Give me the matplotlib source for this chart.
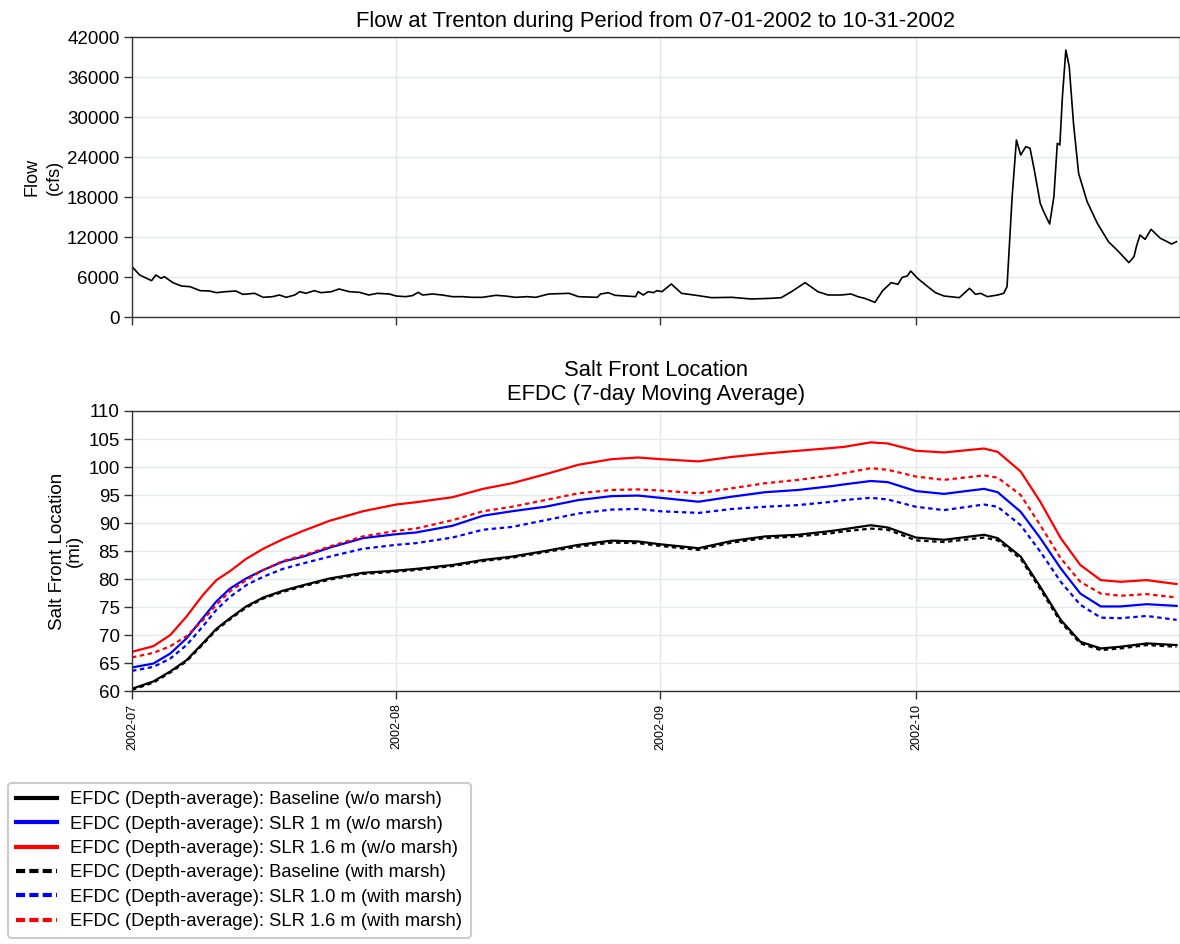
import matplotlib
matplotlib.use("Agg")
import matplotlib.pyplot as plt
from matplotlib.lines import Line2D
import pandas as pd

plt.rcParams['font.family'] = ['Liberation Sans', 'DejaVu Sans']

# ---------------- data ----------------
start = pd.Timestamp('2002-07-01')

flow_days = [0, 0.9, 2.3, 2.8, 3.4, 3.8, 4.8, 5.8, 6.8, 8.0, 9.1, 9.9, 11.0, 12.2, 13.0, 14.4,
             15.4, 16.5, 17.3, 18.1, 19.1, 19.7, 20.4, 21.4, 22.2, 23.4, 24.3, 25.5, 26.7, 27.8,
             28.8, 30.2, 31.0, 32.1, 32.9, 33.6, 34.1, 35.3, 36.4, 37.6, 38.8, 39.9, 41.1, 42.7,
             43.8, 45.0, 46.4, 47.4, 48.9, 51.3, 52.4, 54.6, 55.0, 55.9, 56.7, 59.1, 59.4, 60.0,
             60.6, 61.2, 61.6, 62.2, 63.3, 64.5, 66.5, 68.0, 70.4, 72.7, 75.0, 76.2, 77.4, 79.0,
             80.5, 81.7, 83.2, 84.4, 85.2, 86.0, 87.2, 88.1, 89.1, 89.9, 90.4, 91.0, 91.4, 92.2,
             93.4, 94.3, 95.3, 97.1, 98.3, 99.0, 99.6, 100.4, 101.6, 102.3, 102.7, 103.3, 103.8,
             104.3, 104.9, 105.4, 105.9, 106.6, 107.0, 107.7, 108.2, 108.6, 108.9, 109.2, 109.6,
             110.0, 110.5, 111.1, 112.1, 113.3, 114.6, 115.8, 117.0, 117.6, 117.9, 118.3, 118.9,
             119.6, 120.7, 121.5, 122.0, 122.6]
flow_cfs = [7550, 6300, 5450, 6300, 5800, 6050, 5150, 4650, 4550, 3950, 3900, 3650, 3800, 3900, 3400, 3550,
            2950, 3050, 3300, 2950, 3300, 3800, 3550, 3950, 3650, 3800, 4200, 3800, 3700, 3300,
            3550, 3450, 3150, 3050, 3200, 3700, 3300, 3450, 3300, 3050, 3050, 2950, 2950, 3250,
            3150, 2950, 3050, 2950, 3450, 3550, 3050, 2950, 3450, 3650, 3250, 3050, 3800, 3300,
            3800, 3650, 3950, 3800, 4950, 3550, 3200, 2900, 2950, 2700, 2800, 2900, 3800, 5150,
            3800, 3300, 3300, 3450, 3050, 2800, 2200, 3950, 5150, 4900, 5950, 6150, 6900, 5800,
            4550, 3650, 3150, 2900, 4300, 3400, 3550, 3050, 3300, 3550, 4550, 18050, 26550,
            24300, 25550, 25300, 22050, 17050, 15800, 13950, 18050, 26050, 25800, 33050, 40050,
            37550, 29050, 21550, 17300, 14050, 11300, 9800, 8150, 9050, 10650, 12300, 11650,
            13150, 11800, 11300, 10950, 11300]

sf_days = [0, 2.5, 4.5, 6.4, 8.3, 9.9, 11.5, 13.4, 15.4, 17.7, 20.1, 23.2, 27.1, 31.0, 33.3,
           37.6, 41.2, 44.6, 48.5, 52.4, 56.3, 59.4, 62.0, 66.5, 70.4, 74.3, 78.2, 82.2, 83.6,
           86.7, 88.7, 92.0, 95.3, 100.0, 101.6, 104.3, 106.6, 109.0, 111.3, 113.7, 116.0,
           119.1, 122.6]

base_wo = [60.4, 61.7, 63.5, 65.5, 68.5, 71.1, 73.0, 75.1, 76.7, 77.9, 78.9, 80.1, 81.1, 81.5, 81.8,
           82.5, 83.4, 84.0, 85.0, 86.1, 86.85, 86.7, 86.2, 85.5, 86.8, 87.6, 87.9, 88.6, 88.9,
           89.6, 89.2, 87.4, 87.0, 87.9, 87.3, 84.0, 78.6, 72.7, 68.8, 67.6, 67.9, 68.5, 68.2]
slr1_wo = [64.2, 64.9, 66.7, 69.4, 73.0, 76.0, 78.3, 80.1, 81.6, 83.1, 84.0, 85.6, 87.3, 88.0, 88.3,
           89.5, 91.3, 92.1, 92.9, 94.1, 94.8, 94.9, 94.5, 93.8, 94.7, 95.5, 95.9, 96.6, 96.9,
           97.5, 97.3, 95.7, 95.2, 96.1, 95.5, 92.0, 87.3, 81.9, 77.4, 75.1, 75.1, 75.5, 75.2]
slr16_wo = [67.0, 68.0, 70.0, 73.3, 77.1, 79.8, 81.4, 83.6, 85.4, 87.1, 88.6, 90.4, 92.1, 93.3, 93.7,
            94.6, 96.1, 97.1, 98.7, 100.4, 101.4, 101.7, 101.4, 101.0, 101.8, 102.4, 102.9, 103.4, 103.6,
            104.4, 104.2, 102.9, 102.6, 103.3, 102.7, 99.2, 93.8, 87.3, 82.5, 79.8, 79.5, 79.8, 79.1]
base_w = [60.2, 61.5, 63.3, 65.3, 68.3, 70.9, 72.8, 74.9, 76.5, 77.7, 78.7, 79.9, 80.9, 81.3, 81.6,
          82.3, 83.2, 83.8, 84.8, 85.8, 86.5, 86.4, 85.9, 85.2, 86.5, 87.3, 87.6, 88.2, 88.5,
          89.0, 88.8, 86.9, 86.6, 87.4, 86.9, 83.6, 78.2, 72.3, 68.5, 67.3, 67.6, 68.2, 67.9]
slr1_w = [63.6, 64.3, 65.8, 68.2, 71.5, 74.5, 76.8, 78.9, 80.4, 81.8, 82.8, 84.0, 85.4, 86.1, 86.4,
          87.4, 88.8, 89.3, 90.5, 91.7, 92.4, 92.5, 92.1, 91.8, 92.5, 92.9, 93.2, 93.8, 94.1,
          94.5, 94.2, 92.9, 92.3, 93.3, 92.9, 89.6, 84.9, 79.5, 75.4, 73.1, 73.0, 73.4, 72.7]
slr16_w = [66.0, 66.8, 68.0, 69.8, 72.6, 75.4, 77.8, 79.8, 81.6, 83.2, 84.2, 85.8, 87.6, 88.6, 89.0,
           90.5, 92.1, 92.9, 94.1, 95.3, 95.9, 96.0, 95.8, 95.3, 96.2, 97.1, 97.7, 98.5, 98.9,
           99.8, 99.5, 98.3, 97.7, 98.5, 98.1, 95.0, 89.6, 83.7, 79.5, 77.4, 77.0, 77.3, 76.7]

labels = ['EFDC (Depth-average): Baseline (w/o marsh)',
          'EFDC (Depth-average): SLR 1 m (w/o marsh)',
          'EFDC (Depth-average): SLR 1.6 m (w/o marsh)',
          'EFDC (Depth-average): Baseline (with marsh)',
          'EFDC (Depth-average): SLR 1.0 m (with marsh)',
          'EFDC (Depth-average): SLR 1.6 m (with marsh)']

flow_ticks = [0, 6000, 12000, 18000, 24000, 30000, 36000, 42000]
sf_ticks = [60, 65, 70, 75, 80, 85, 90, 95, 100, 105, 110]
month_ticks = ['2002-07-01', '2002-08-01', '2002-09-01', '2002-10-01']

# ---------------- plot ----------------
flow_t = start + pd.to_timedelta(flow_days, unit='D')
sf_t = start + pd.to_timedelta(sf_days, unit='D')

W, H = 1180, 944
fig = plt.figure(figsize=(W / 100, H / 100), dpi=100)
ax1 = fig.add_axes([132 / W, 1 - 317 / H, (W - 132) / W, 280 / H])
ax2 = fig.add_axes([132 / W, 1 - 691 / H, (W - 132) / W, 280 / H])

gridc = '#e2ebeb'
spinec = '#333333'
xlim = (pd.Timestamp('2002-07-01'), pd.Timestamp('2002-11-01'))
mt = pd.to_datetime(month_ticks)

for ax in (ax1, ax2):
    ax.set_xlim(xlim)
    ax.set_xticks(mt)
    ax.grid(True, color=gridc, lw=1.0)
    ax.set_axisbelow(True)
    for s in ax.spines.values():
        s.set_color(spinec)
        s.set_linewidth(1.0)
    ax.tick_params(axis='both', direction='out', color=spinec, length=6, width=1.0,
                   labelsize=13.5, pad=3)

ax1.plot(flow_t, flow_cfs, color='black', lw=1.2)
ax1.set_ylim(0, 42000)
ax1.set_yticks(flow_ticks)
ax1.set_xticklabels([])
ax1.set_ylabel('Flow\n(cfs)', fontsize=13, linespacing=1.45, labelpad=3)
ax1.set_title('Flow at Trenton during Period from 07-01-2002 to 10-31-2002', fontsize=15.8, pad=7)

dot = (0, (2.0, 1.6))
ax2.plot(sf_t, base_wo, color='black', lw=1.6)
ax2.plot(sf_t, slr1_wo, color='blue', lw=1.6)
ax2.plot(sf_t, slr16_wo, color='red', lw=1.6)
ax2.plot(sf_t, base_w, color='black', lw=1.6, ls=dot)
ax2.plot(sf_t, slr1_w, color='blue', lw=1.6, ls=dot)
ax2.plot(sf_t, slr16_w, color='red', lw=1.6, ls=dot)
ax2.set_ylim(60, 110)
ax2.set_yticks(sf_ticks)
ax2.set_xticklabels([d.strftime('%Y-%m') for d in mt], rotation=90, fontsize=9)
ax2.set_ylabel('Salt Front Location\n(mi)', fontsize=13.5, linespacing=0.95, labelpad=4)
ax2.set_title('Salt Front Location\nEFDC (7-day Moving Average)', fontsize=15.8, pad=8, linespacing=1.15)

colors = ['black', 'blue', 'red', 'black', 'blue', 'red']
styles = ['-', '-', '-', (0, (2.2, 1.0)), (0, (2.2, 1.0)), (0, (2.2, 1.0))]
handles = [Line2D([], [], color=c, lw=3.0, ls=s) for c, s in zip(colors, styles)]
leg = fig.legend(handles, labels, loc='upper left', bbox_to_anchor=(8 / W, 1 - 783 / H),
                 fontsize=13.2, frameon=True, fancybox=True, framealpha=1.0, edgecolor='#cccccc',
                 handlelength=2.2, handletextpad=0.75, labelspacing=0.40, borderpad=0.45,
                 borderaxespad=0.0)
leg.get_frame().set_linewidth(1.5)

fig.savefig('out.png', dpi=100)
